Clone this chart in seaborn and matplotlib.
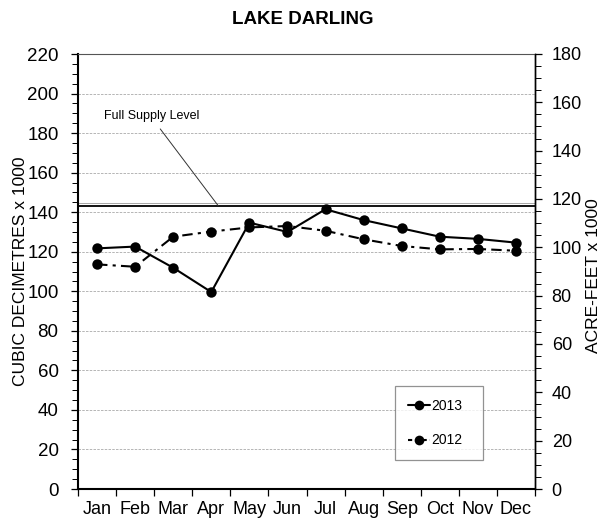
import numpy as np
import pandas as pd
import matplotlib
matplotlib.use("Agg")
import matplotlib.pyplot as plt
from matplotlib.ticker import MultipleLocator, FixedLocator, NullFormatter
from matplotlib.lines import Line2D
import seaborn as sns

months = ["Jan", "Feb", "Mar", "Apr", "May", "Jun", "Jul", "Aug", "Sep", "Oct", "Nov", "Dec"]
vol_2013 = [121.7, 122.6, 111.9, 99.6, 134.7, 130.0, 141.5, 136.0, 131.8, 127.6, 126.5, 124.6]
vol_2012 = [113.6, 112.4, 127.6, 130.2, 132.3, 133.0, 130.6, 126.3, 122.9, 121.2, 121.4, 120.5]
full_supply_level = 143.3
years = ["2013", "2012"]

df = pd.DataFrame({
    "month": months * 2,
    "value": vol_2013 + vol_2012,
    "year": ["2013"] * 12 + ["2012"] * 12,
})

sns.set_theme(style="white")
plt.rcParams["font.family"] = ["Liberation Sans", "DejaVu Sans"]
plt.rcParams.update({"text.color": "black", "axes.labelcolor": "black",
                     "xtick.color": "black", "ytick.color": "black"})

fig = plt.figure(figsize=(6.06, 5.24), dpi=100)
ax = fig.add_axes([78 / 606, 1 - 489 / 524, (535 - 78) / 606, (489 - 54) / 524])

sns.lineplot(data=df, x="month", y="value", hue="year", style="year",
             palette={"2013": "black", "2012": "black"},
             markers={"2013": "o", "2012": "o"},
             dashes={"2013": "", "2012": (5, 2.5, 1.5, 2.5)},
             markersize=7.5, linewidth=1.5, markeredgewidth=0,
             sort=False, ax=ax, legend=False, zorder=3)

ax.set_xlim(-0.5, 11.5)
ax.set_ylim(0, 220)

# grid lines
for g in range(20, 220, 20):
    ax.axhline(g, color="#aaaaaa", lw=0.6, ls=(0, (3, 1.5)), zorder=1)

# full supply level
ax.axhline(full_supply_level + 1.2, color="#999999", lw=0.6, zorder=2)
ax.axhline(full_supply_level, color="black", lw=1.3, zorder=2)
ax.text(0.18, 188.7, "Full Supply Level", fontsize=9, va="center", ha="left")
ax.plot([1.66, 3.18], [182.1, full_supply_level], color="#333333", lw=0.7)

# x ticks: marks at boundaries, labels at centres
ax.xaxis.set_major_locator(FixedLocator(np.arange(-0.5, 12, 1)))
ax.xaxis.set_major_formatter(NullFormatter())
ax.set_xticks(np.arange(0, 12, 1), minor=True)
ax.set_xticklabels(months, minor=True, fontsize=13)
ax.tick_params(axis="x", which="major", direction="out", length=5, width=0.9, color="black", bottom=True)
ax.tick_params(axis="x", which="minor", length=0, pad=9)
ax.set_xlabel("")

ax.yaxis.set_major_locator(MultipleLocator(20))
ax.yaxis.set_minor_locator(MultipleLocator(5))
ax.tick_params(axis="y", which="major", direction="out", length=5, width=0.9, color="black", left=True, labelsize=13.5, pad=9)
ax.tick_params(axis="y", which="minor", direction="out", length=4, width=0.7, color="black", left=True)
ax.set_ylabel("CUBIC DECIMETRES x 1000", fontsize=12.5)
ax.yaxis.set_label_coords((28 - 78) / 457, 0.5)

for s in ["left", "bottom"]:
    ax.spines[s].set_color("black")
    ax.spines[s].set_linewidth(1.5)
ax.spines["top"].set_color("#555555")
ax.spines["top"].set_linewidth(0.8)
ax.spines["right"].set_color("black")
ax.spines["right"].set_linewidth(1.0)

ax2 = ax.twinx()
ax2.set_ylim(0, 180)
ax2.yaxis.set_major_locator(MultipleLocator(20))
ax2.yaxis.set_minor_locator(MultipleLocator(5))
ax2.tick_params(axis="y", which="major", direction="out", length=5, width=0.9, color="black", right=True, labelsize=13, pad=7)
ax2.tick_params(axis="y", which="minor", direction="out", length=4, width=0.7, color="black", right=True)
ax2.set_ylabel("ACRE-FEET x 1000", fontsize=12.5, rotation=90)
ax2.yaxis.set_label_coords((586 - 78) / 457, 0.49)
for s in ax2.spines.values():
    s.set_visible(False)
ax2.spines["right"].set_visible(True)
ax2.spines["right"].set_color("black")
ax2.spines["right"].set_linewidth(1.0)
ax2.grid(False)

handles = [
    Line2D([0], [0], color="black", lw=1.5, marker="o", markersize=7, markeredgewidth=0),
    Line2D([0], [0], color="black", lw=1.5, marker="o", markersize=7, markeredgewidth=0,
           dashes=(2, 1.5)),
]
leg = ax.legend(handles, years, loc="lower left",
                bbox_to_anchor=((395 - 78) / 457, (489 - 460) / 435, 88 / 457, 74 / 435),
                mode="expand", frameon=True, fancybox=False, fontsize=10,
                handlelength=1.6, handletextpad=0.1, labelspacing=1.5,
                borderpad=0.9, borderaxespad=0)
leg.get_frame().set_edgecolor("#777777")
leg.get_frame().set_linewidth(0.9)

fig.text(0.5, 1 - 20 / 524, "LAKE DARLING", ha="center", va="center", fontsize=13.5, fontweight="bold")

fig.savefig("out.png", dpi=100)
